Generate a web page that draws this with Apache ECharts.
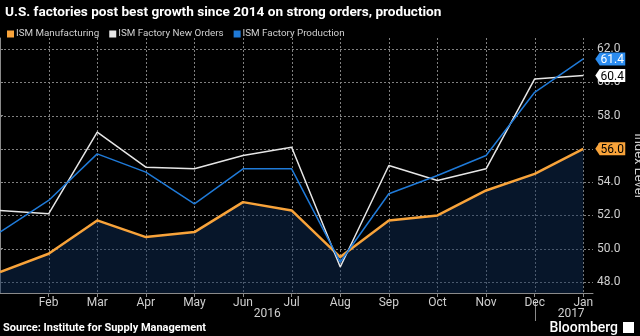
<!DOCTYPE html>
<html>
<head>
<meta charset="utf-8">
<script src="https://cdn.jsdelivr.net/npm/echarts@6/dist/echarts.min.js"></script>
<style>
  html, body { margin: 0; padding: 0; background: #000; }
  #chart { width: 640px; height: 336px; background: #000; }
</style>
</head>
<body>
<div id="chart"></div>
<script>
// Months from Jan 2016 to Jan 2017
const months = ['Jan', 'Feb', 'Mar', 'Apr', 'May', 'Jun', 'Jul', 'Aug', 'Sep', 'Oct', 'Nov', 'Dec', 'Jan'];
// Year captions: label, centre position (in month index), and the year boundary tick
const yearLabels = ['2016', '2017'];
const yearLabelPos = [5.5, 11.75];
const yearBoundary = 11;
const yTicks = [48, 50, 52, 54, 56, 58, 60, 62];

// ISM index levels
const ismManufacturing = [48.6, 49.7, 51.7, 50.7, 51.0, 52.8, 52.3, 49.5, 51.7, 52.0, 53.5, 54.5, 56.0];
const ismNewOrders     = [52.3, 52.1, 57.0, 54.9, 54.8, 55.6, 56.1, 48.9, 55.0, 54.1, 54.8, 60.2, 60.4];
const ismProduction    = [51.0, 52.9, 55.7, 54.6, 52.7, 54.8, 54.8, 49.2, 53.3, 54.4, 55.6, 59.4, 61.4];

const ORANGE = '#f8a33a';
const WHITE = '#e6e6e6';
const BLUE = '#1f7ad8';
const FONT = 'Roboto';
const AXIS_GREY = '#8a8a8a';
const GRID_GREY = '#808080';
const X_MIN = 0, X_MAX = 12.2, Y_MIN = 47.34, Y_MAX = 62.66;

const toPairs = arr => arr.map((v, i) => [i, v]);

// Tag-shaped label pinned to the last point of a series
function endTag(arr, bg, fg) {
  const last = arr.length - 1;
  return {
    symbol: 'path://M0,6 L5,0 L34,0 L34,12 L5,12 Z',
    symbolSize: [30, 13],
    symbolKeepAspect: false,
    symbolOffset: [27, 0],
    itemStyle: { color: bg },
    label: {
      show: true, position: 'inside', offset: [2, 1],
      color: fg, fontFamily: FONT, fontSize: 12,
      formatter: p => p.value.toFixed(1)
    },
    data: [{ coord: [last, arr[last]], value: arr[last] }],
    silent: true, animation: false
  };
}

const chart = echarts.init(document.getElementById('chart'));
chart.setOption({
  animation: false,
  title: {
    text: 'U.S. factories post best growth since 2014 on strong orders, production',
    left: 0, top: 1,
    textStyle: { color: '#fff', fontFamily: FONT, fontWeight: 'bold', fontSize: 13.6 }
  },
  legend: {
    left: 2, top: 24,
    icon: 'rect', itemWidth: 7, itemHeight: 7, itemGap: 10,
    textStyle: { color: '#d0d0d0', fontFamily: FONT, fontSize: 9.8, padding: [0, 0, 0, -3] },
    data: ['ISM Manufacturing', 'ISM Factory New Orders', 'ISM Factory Production']
  },
  grid: { left: 0, right: 47, top: 38, bottom: 43, outerBoundsMode: 'none', containLabel: false },
  xAxis: {
    type: 'value', min: X_MIN, max: X_MAX, interval: 1,
    axisLine: { show: true, lineStyle: { color: AXIS_GREY } },
    axisTick: { show: true, length: 4, lineStyle: { color: AXIS_GREY } },
    splitLine: { show: false },
    axisLabel: {
      color: '#cfcfcf', fontFamily: FONT, fontSize: 12, margin: 4,
      showMinLabel: false, showMaxLabel: false,
      formatter: v => (v > 0 && Number.isInteger(v)) ? months[v] : ''
    }
  },
  yAxis: {
    type: 'value', position: 'right', min: Y_MIN, max: Y_MAX,
    name: 'Index Level', nameLocation: 'middle', nameRotate: -90, nameGap: 25,
    nameTextStyle: { color: '#cfcfcf', fontFamily: FONT, fontSize: 13 },
    axisLine: { show: true, lineStyle: { color: AXIS_GREY } },
    axisTick: { show: true, length: 3, customValues: yTicks, lineStyle: { color: AXIS_GREY } },
    splitLine: { show: false },
    axisLabel: {
      color: '#cfcfcf', fontFamily: FONT, fontSize: 12, margin: 4,
      customValues: yTicks,
      formatter: v => v.toFixed(1)
    }
  },
  series: [{
    name: 'ISM Manufacturing', type: 'line', data: toPairs(ismManufacturing),
    symbol: 'none', color: ORANGE,
    lineStyle: { width: 2.5, color: ORANGE },
    areaStyle: { color: 'rgba(14,46,88,0.68)', origin: 'start' },
    markPoint: endTag(ismManufacturing, ORANGE, '#000'),
    z: 2
  }, {
    name: 'ISM Factory New Orders', type: 'line', data: toPairs(ismNewOrders),
    symbol: 'none', color: WHITE,
    lineStyle: { width: 1.5, color: WHITE },
    markPoint: endTag(ismNewOrders, '#ffffff', '#000'),
    z: 3
  }, {
    name: 'ISM Factory Production', type: 'line', data: toPairs(ismProduction),
    symbol: 'none', color: BLUE,
    lineStyle: { width: 1.5, color: BLUE },
    markPoint: endTag(ismProduction, '#2b8cf0', '#fff'),
    z: 4
  }]
});

// Dotted grid, year captions and year boundary tick, placed through the axis scales
const toPx = v => chart.convertToPixel({ xAxisIndex: 0 }, v);
const toPy = v => chart.convertToPixel({ yAxisIndex: 0 }, v);
const snap = p => Math.round(p) + 0.5;
const plotLeft = toPx(X_MIN), plotRight = toPx(X_MAX);
const plotTop = toPy(Y_MAX), plotBottom = toPy(Y_MIN);
const extras = [];
months.forEach((m, i) => {
  if (i === 0) return;
  const gx = snap(toPx(i));
  extras.push({
    type: 'line', z: 0, silent: true,
    shape: { x1: gx, y1: plotTop, x2: gx, y2: plotBottom },
    style: { stroke: GRID_GREY, lineWidth: 1, lineDash: [2, 2] }
  });
});
yTicks.forEach(t => {
  const gy = snap(toPy(t));
  extras.push({
    type: 'line', z: 0, silent: true,
    shape: { x1: plotLeft, y1: gy, x2: plotRight, y2: gy },
    style: { stroke: GRID_GREY, lineWidth: 1, lineDash: [2, 2] }
  });
});
yearLabels.forEach((txt, i) => {
  extras.push({
    type: 'text', x: toPx(yearLabelPos[i]), y: plotBottom + 15,
    style: { text: txt, fill: '#cfcfcf', font: '12px Roboto', align: 'center', verticalAlign: 'top' }
  });
});
const bx = snap(toPx(yearBoundary));
extras.push({
  type: 'line',
  shape: { x1: bx, y1: plotBottom + 8, x2: bx, y2: plotBottom + 28 },
  style: { stroke: AXIS_GREY, lineWidth: 1 }
});
extras.push({
  type: 'text', left: 3, bottom: 2,
  style: { text: 'Source: Institute for Supply Management', fill: '#fff', font: 'bold 11px Roboto' }
}, {
  type: 'text', right: 22, bottom: 1,
  style: { text: 'Bloomberg', fill: '#fff', font: '500 14px Roboto' }
}, {
  type: 'rect', right: 6, bottom: 3,
  shape: { width: 11, height: 11 },
  style: { fill: '#fff' }
});
chart.setOption({ graphic: extras });
</script>
</body>
</html>
